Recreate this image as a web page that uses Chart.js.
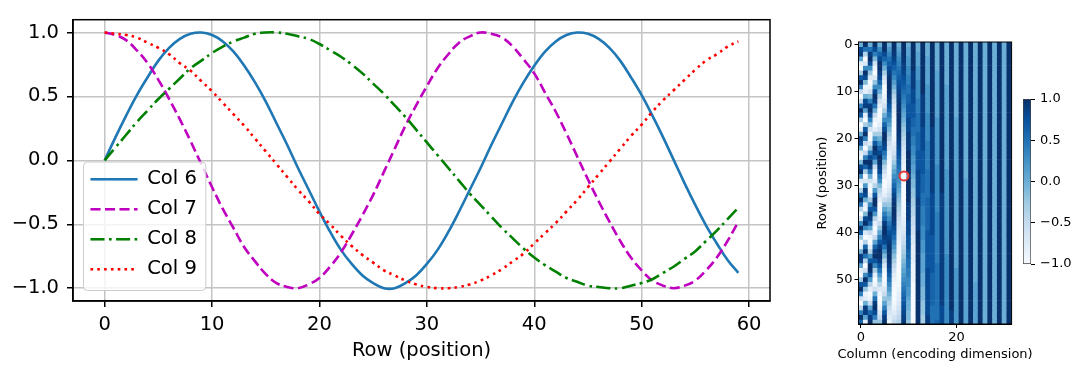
<!DOCTYPE html>
<html><head><meta charset="utf-8">
<script src="https://cdn.jsdelivr.net/npm/chart.js@4.4.1/dist/chart.umd.min.js"></script>
<style>
html,body{margin:0;padding:0;background:#fff;width:1071px;height:367px;overflow:hidden;position:relative;}
canvas{position:absolute;top:0;}
#line{left:0;}
#heat{left:800px;}
#cbar{left:1015px;}
</style></head><body>
<canvas id="line" width="790" height="367"></canvas>
<canvas id="heat" width="271" height="367"></canvas>
<canvas id="cbar" width="56" height="367"></canvas>
<script>
// ---------- data ----------
const positions = [
  0,1,2,3,4,5,6,7,8,9,
  10,11,12,13,14,15,16,17,18,19,
  20,21,22,23,24,25,26,27,28,29,
  30,31,32,33,34,35,36,37,38,39,
  40,41,42,43,44,45,46,47,48,49,
  50,51,52,53,54,55,56,57,58,59];
const seriesLabels = ['Col 6','Col 7','Col 8','Col 9'];
const col6 = [
  0,0.18,0.35,0.51,0.65,0.78,0.88,0.95,0.99,1.00,
  0.98,0.93,0.85,0.74,0.61,0.46,0.29,0.12,-0.06,-0.23,
  -0.40,-0.56,-0.70,-0.81,-0.90,-0.96,-1.00,-1.00,-0.96,-0.90,
  -0.81,-0.70,-0.56,-0.40,-0.23,-0.06,0.12,0.29,0.46,0.61,
  0.74,0.85,0.93,0.98,1.00,0.99,0.95,0.88,0.78,0.65,
  0.51,0.35,0.18,0.00,-0.18,-0.35,-0.51,-0.65,-0.78,-0.88];
const col7 = [
  1,0.98,0.94,0.86,0.76,0.63,0.48,0.32,0.15,-0.03,
  -0.21,-0.38,-0.53,-0.68,-0.79,-0.89,-0.96,-0.99,-1.00,-0.97,
  -0.92,-0.83,-0.72,-0.58,-0.43,-0.27,-0.09,0.09,0.27,0.43,
  0.58,0.72,0.83,0.92,0.97,1.00,0.99,0.96,0.89,0.79,
  0.68,0.53,0.38,0.21,0.03,-0.15,-0.32,-0.48,-0.63,-0.76,
  -0.86,-0.94,-0.98,-1.00,-0.98,-0.94,-0.86,-0.76,-0.63,-0.48];
const col8 = [
  0,0.10,0.20,0.30,0.39,0.48,0.56,0.64,0.72,0.78,
  0.84,0.89,0.93,0.96,0.99,1.00,1.00,0.99,0.97,0.95,
  0.91,0.86,0.81,0.75,0.68,0.60,0.52,0.43,0.34,0.24,
  0.14,0.04,-0.06,-0.16,-0.26,-0.35,-0.44,-0.53,-0.61,-0.69,
  -0.76,-0.82,-0.87,-0.92,-0.95,-0.98,-0.99,-1.00,-1.00,-0.98,
  -0.96,-0.93,-0.88,-0.83,-0.77,-0.71,-0.63,-0.55,-0.46,-0.37];
const col9 = [
  1,0.99,0.98,0.96,0.92,0.88,0.83,0.76,0.70,0.62,
  0.54,0.45,0.36,0.27,0.17,0.07,-0.03,-0.13,-0.23,-0.32,
  -0.42,-0.50,-0.59,-0.67,-0.74,-0.80,-0.86,-0.90,-0.94,-0.97,
  -0.99,-1.00,-1.00,-0.99,-0.97,-0.94,-0.90,-0.85,-0.79,-0.73,
  -0.65,-0.57,-0.49,-0.40,-0.31,-0.21,-0.11,-0.01,0.09,0.19,
  0.28,0.38,0.47,0.55,0.63,0.71,0.78,0.83,0.89,0.93];

// heatmap columns (encoding dimensions), one value per row (10 rows per line)
const c0 = [
  0,0.8,0.9,0.1,-0.8,-1,-0.3,0.7,1,0.4,
  -0.5,-1,-0.5,0.4,1,0.7,-0.3,-1,-0.8,0.1,
  0.9,0.8,0,-0.8,-0.9,-0.1,0.8,1,0.3,-0.7,
  -1,-0.4,0.6,1,0.5,-0.4,-1,-0.6,0.3,1,
  0.7,-0.2,-0.9,-0.8,0,0.9,0.9,0.1,-0.8,-1,
  -0.3,0.7,1,0.4,-0.6,-1,-0.5,0.4,1,0.6];
const c1 = [
  1,0.5,-0.4,-1,-0.7,0.3,1,0.8,-0.1,-0.9,
  -0.8,0,0.8,0.9,0.1,-0.8,-1,-0.3,0.7,1,
  0.4,-0.5,-1,-0.5,0.4,1,0.6,-0.3,-1,-0.7,
  0.2,0.9,0.8,0,-0.8,-0.9,-0.1,0.8,1,0.3,
  -0.7,-1,-0.4,0.6,1,0.5,-0.4,-1,-0.6,0.3,
  1,0.7,-0.2,-0.9,-0.8,0,0.9,0.9,0.1,-0.8];
const c2 = [
  0,0.5,0.9,1,0.8,0.3,-0.2,-0.7,-1,-0.9,
  -0.6,-0.1,0.4,0.9,1,0.8,0.4,-0.1,-0.6,-1,
  -1,-0.7,-0.2,0.4,0.8,1,0.9,0.5,0,-0.6,
  -0.9,-1,-0.8,-0.3,0.3,0.7,1,0.9,0.6,0.1,
  -0.5,-0.9,-1,-0.8,-0.4,0.2,0.7,1,1,0.7,
  0.2,-0.4,-0.8,-1,-0.9,-0.5,0.1,0.6,0.9,1];
const c3 = [
  1,0.8,0.4,-0.1,-0.6,-0.9,-1,-0.7,-0.2,0.3,
  0.8,1,0.9,0.5,0,-0.5,-0.9,-1,-0.8,-0.3,
  0.2,0.7,1,0.9,0.6,0.1,-0.5,-0.9,-1,-0.8,
  -0.4,0.2,0.7,1,1,0.7,0.2,-0.4,-0.8,-1,
  -0.9,-0.5,0.1,0.6,0.9,1,0.7,0.3,-0.3,-0.8,
  -1,-0.9,-0.6,0,0.5,0.9,1,0.8,0.4,-0.2];
const c4 = [
  0,0.3,0.6,0.8,1,1,0.9,0.8,0.6,0.3,
  0,-0.3,-0.6,-0.8,-1,-1,-0.9,-0.8,-0.6,-0.3,
  0,0.3,0.6,0.8,1,1,0.9,0.8,0.5,0.3,
  -0.1,-0.4,-0.6,-0.8,-1,-1,-0.9,-0.8,-0.5,-0.2,
  0.1,0.4,0.7,0.9,1,1,0.9,0.7,0.5,0.2,
  -0.1,-0.4,-0.7,-0.9,-1,-1,-0.9,-0.7,-0.5,-0.2];
const c5 = [
  1,1,0.8,0.6,0.3,0,-0.3,-0.6,-0.8,-1,
  -1,-0.9,-0.8,-0.6,-0.3,0,0.3,0.6,0.8,1,
  1,0.9,0.8,0.5,0.3,-0.1,-0.4,-0.6,-0.8,-1,
  -1,-0.9,-0.8,-0.5,-0.2,0.1,0.4,0.6,0.9,1,
  1,0.9,0.8,0.5,0.2,-0.1,-0.4,-0.7,-0.9,-1,
  -1,-0.9,-0.7,-0.5,-0.2,0.1,0.4,0.7,0.9,1];
const c10 = [
  0,0.1,0.1,0.2,0.2,0.3,0.3,0.4,0.4,0.5,
  0.5,0.6,0.6,0.7,0.7,0.7,0.8,0.8,0.8,0.9,
  0.9,0.9,0.9,1,1,1,1,1,1,1,
  1,1,1,1,0.9,0.9,0.9,0.9,0.8,0.8,
  0.8,0.7,0.7,0.7,0.6,0.6,0.5,0.5,0.4,0.4,
  0.3,0.3,0.2,0.2,0.1,0,0,-0.1,-0.1,-0.2];
const c11 = [
  1,1,1,1,1,1,0.9,0.9,0.9,0.9,
  0.8,0.8,0.8,0.7,0.7,0.7,0.6,0.6,0.5,0.5,
  0.4,0.4,0.3,0.3,0.2,0.2,0.1,0.1,0,-0.1,
  -0.1,-0.2,-0.2,-0.3,-0.3,-0.4,-0.4,-0.5,-0.5,-0.6,
  -0.6,-0.7,-0.7,-0.8,-0.8,-0.8,-0.8,-0.9,-0.9,-0.9,
  -0.9,-1,-1,-1,-1,-1,-1,-1,-1,-1];
const c12 = [
  0,0,0.1,0.1,0.1,0.2,0.2,0.2,0.3,0.3,
  0.3,0.3,0.4,0.4,0.4,0.5,0.5,0.5,0.5,0.6,
  0.6,0.6,0.6,0.7,0.7,0.7,0.7,0.8,0.8,0.8,
  0.8,0.8,0.8,0.9,0.9,0.9,0.9,0.9,0.9,0.9,
  1,1,1,1,1,1,1,1,1,1,
  1,1,1,1,1,1,1,1,1,1];
const c13 = [
  1,1,1,1,1,1,1,1,1,1,
  1,0.9,0.9,0.9,0.9,0.9,0.9,0.9,0.8,0.8,
  0.8,0.8,0.8,0.7,0.7,0.7,0.7,0.7,0.6,0.6,
  0.6,0.6,0.5,0.5,0.5,0.4,0.4,0.4,0.4,0.3,
  0.3,0.3,0.2,0.2,0.2,0.1,0.1,0.1,0.1,0,
  0,0,-0.1,-0.1,-0.1,-0.2,-0.2,-0.2,-0.3,-0.3];
const c14 = [
  0,0,0,0.1,0.1,0.1,0.1,0.1,0.1,0.2,
  0.2,0.2,0.2,0.2,0.2,0.3,0.3,0.3,0.3,0.3,
  0.3,0.4,0.4,0.4,0.4,0.4,0.4,0.5,0.5,0.5,
  0.5,0.5,0.5,0.6,0.6,0.6,0.6,0.6,0.6,0.6,
  0.7,0.7,0.7,0.7,0.7,0.7,0.7,0.7,0.8,0.8,
  0.8,0.8,0.8,0.8,0.8,0.8,0.8,0.8,0.9,0.9];
const c15 = [
  1,1,1,1,1,1,1,1,1,1,
  1,1,1,1,1,1,1,1,0.9,0.9,
  0.9,0.9,0.9,0.9,0.9,0.9,0.9,0.9,0.9,0.9,
  0.9,0.9,0.8,0.8,0.8,0.8,0.8,0.8,0.8,0.8,
  0.8,0.7,0.7,0.7,0.7,0.7,0.7,0.7,0.7,0.6,
  0.6,0.6,0.6,0.6,0.6,0.6,0.5,0.5,0.5,0.5];
const c16 = [
  0,0,0,0,0,0,0.1,0.1,0.1,0.1,
  0.1,0.1,0.1,0.1,0.1,0.1,0.2,0.2,0.2,0.2,
  0.2,0.2,0.2,0.2,0.2,0.2,0.3,0.3,0.3,0.3,
  0.3,0.3,0.3,0.3,0.3,0.3,0.4,0.4,0.4,0.4,
  0.4,0.4,0.4,0.4,0.4,0.4,0.4,0.5,0.5,0.5,
  0.5,0.5,0.5,0.5,0.5,0.5,0.5,0.5,0.5,0.6];
const c17 = [
  1,1,1,1,1,1,1,1,1,1,
  1,1,1,1,1,1,1,1,1,1,
  1,1,1,1,1,1,1,1,1,1,
  1,1,0.9,0.9,0.9,0.9,0.9,0.9,0.9,0.9,
  0.9,0.9,0.9,0.9,0.9,0.9,0.9,0.9,0.9,0.9,
  0.9,0.9,0.9,0.9,0.9,0.9,0.8,0.8,0.8,0.8];
const c18 = [
  0,0,0,0,0,0,0,0,0,0.1,
  0.1,0.1,0.1,0.1,0.1,0.1,0.1,0.1,0.1,0.1,
  0.1,0.1,0.1,0.1,0.1,0.1,0.1,0.2,0.2,0.2,
  0.2,0.2,0.2,0.2,0.2,0.2,0.2,0.2,0.2,0.2,
  0.2,0.2,0.2,0.2,0.2,0.3,0.3,0.3,0.3,0.3,
  0.3,0.3,0.3,0.3,0.3,0.3,0.3,0.3,0.3,0.3];
const c19 = [
  1,1,1,1,1,1,1,1,1,1,
  1,1,1,1,1,1,1,1,1,1,
  1,1,1,1,1,1,1,1,1,1,
  1,1,1,1,1,1,1,1,1,1,
  1,1,1,1,1,1,1,1,1,1,
  1,1,1,1,1,1,1,0.9,0.9,0.9];
const c20 = [
  0,0,0,0,0,0,0,0,0,0,
  0,0,0,0,0,0,0.1,0.1,0.1,0.1,
  0.1,0.1,0.1,0.1,0.1,0.1,0.1,0.1,0.1,0.1,
  0.1,0.1,0.1,0.1,0.1,0.1,0.1,0.1,0.1,0.1,
  0.1,0.1,0.1,0.1,0.1,0.1,0.1,0.1,0.2,0.2,
  0.2,0.2,0.2,0.2,0.2,0.2,0.2,0.2,0.2,0.2];
const c21 = [
  1,1,1,1,1,1,1,1,1,1,
  1,1,1,1,1,1,1,1,1,1,
  1,1,1,1,1,1,1,1,1,1,
  1,1,1,1,1,1,1,1,1,1,
  1,1,1,1,1,1,1,1,1,1,
  1,1,1,1,1,1,1,1,1,1];
const c22 = [
  0,0,0,0,0,0,0,0,0,0,
  0,0,0,0,0,0,0,0,0,0,
  0,0,0,0,0,0,0,0,0,0.1,
  0.1,0.1,0.1,0.1,0.1,0.1,0.1,0.1,0.1,0.1,
  0.1,0.1,0.1,0.1,0.1,0.1,0.1,0.1,0.1,0.1,
  0.1,0.1,0.1,0.1,0.1,0.1,0.1,0.1,0.1,0.1];
const c23 = [
  1,1,1,1,1,1,1,1,1,1,
  1,1,1,1,1,1,1,1,1,1,
  1,1,1,1,1,1,1,1,1,1,
  1,1,1,1,1,1,1,1,1,1,
  1,1,1,1,1,1,1,1,1,1,
  1,1,1,1,1,1,1,1,1,1];
const c24 = [
  0,0,0,0,0,0,0,0,0,0,
  0,0,0,0,0,0,0,0,0,0,
  0,0,0,0,0,0,0,0,0,0,
  0,0,0,0,0,0,0,0,0,0,
  0,0,0,0,0,0,0,0,0,0,
  0,0.1,0.1,0.1,0.1,0.1,0.1,0.1,0.1,0.1];
const c25 = [
  1,1,1,1,1,1,1,1,1,1,
  1,1,1,1,1,1,1,1,1,1,
  1,1,1,1,1,1,1,1,1,1,
  1,1,1,1,1,1,1,1,1,1,
  1,1,1,1,1,1,1,1,1,1,
  1,1,1,1,1,1,1,1,1,1];
const c26 = [
  0,0,0,0,0,0,0,0,0,0,
  0,0,0,0,0,0,0,0,0,0,
  0,0,0,0,0,0,0,0,0,0,
  0,0,0,0,0,0,0,0,0,0,
  0,0,0,0,0,0,0,0,0,0,
  0,0,0,0,0,0,0,0,0,0];
const c27 = [
  1,1,1,1,1,1,1,1,1,1,
  1,1,1,1,1,1,1,1,1,1,
  1,1,1,1,1,1,1,1,1,1,
  1,1,1,1,1,1,1,1,1,1,
  1,1,1,1,1,1,1,1,1,1,
  1,1,1,1,1,1,1,1,1,1];
const c28 = [
  0,0,0,0,0,0,0,0,0,0,
  0,0,0,0,0,0,0,0,0,0,
  0,0,0,0,0,0,0,0,0,0,
  0,0,0,0,0,0,0,0,0,0,
  0,0,0,0,0,0,0,0,0,0,
  0,0,0,0,0,0,0,0,0,0];
const c29 = [
  1,1,1,1,1,1,1,1,1,1,
  1,1,1,1,1,1,1,1,1,1,
  1,1,1,1,1,1,1,1,1,1,
  1,1,1,1,1,1,1,1,1,1,
  1,1,1,1,1,1,1,1,1,1,
  1,1,1,1,1,1,1,1,1,1];
const c30 = [
  0,0,0,0,0,0,0,0,0,0,
  0,0,0,0,0,0,0,0,0,0,
  0,0,0,0,0,0,0,0,0,0,
  0,0,0,0,0,0,0,0,0,0,
  0,0,0,0,0,0,0,0,0,0,
  0,0,0,0,0,0,0,0,0,0];
const c31 = [
  1,1,1,1,1,1,1,1,1,1,
  1,1,1,1,1,1,1,1,1,1,
  1,1,1,1,1,1,1,1,1,1,
  1,1,1,1,1,1,1,1,1,1,
  1,1,1,1,1,1,1,1,1,1,
  1,1,1,1,1,1,1,1,1,1];

// ticks
const xTicks = [0,10,20,30,40,50,60];
const yTicks = [-1,-0.5,0,0.5,1];
const heatRowTicks = [0,10,20,30,40,50];
const heatColTicks = [0,20];
const cbarTicks = [-1,-0.5,0,0.5,1];
const cbarRange = [-1, 1];
const markerCol = ['9'];
const markerRow = [28];
const heatXTitle = 'Column (encoding dimension)';

// ---------- helpers ----------
Chart.defaults.font.family = "'DejaVu Sans', sans-serif";
Chart.defaults.color = '#000';
const fmt = v => (Math.round(v*10)/10).toFixed(1).replace('-', '\u2212');
const bluesStops = ['#f7fbff','#deebf7','#c6dbef','#9ecae1','#6baed6','#4292c6','#2171b5','#08519c','#08306b'];
const bluesRgb = bluesStops.map(h => [parseInt(h.slice(1,3),16), parseInt(h.slice(3,5),16), parseInt(h.slice(5,7),16)]);
function blues(v) {
  if (!Number.isFinite(v)) return 'rgba(0,0,0,0)';
  let t = Math.max(0, Math.min(1, (v + 1) / 2)) * 8;
  const i = Math.min(7, Math.floor(t)); const f = t - i;
  const a = bluesRgb[i], b = bluesRgb[i+1];
  return 'rgb(' + [0,1,2].map(k => Math.round(a[k] + (b[k]-a[k])*f)).join(',') + ')';
}
const frame = (lw) => ({
  id: 'frame',
  afterDatasetsDraw(chart) {
    const {ctx, chartArea: a} = chart;
    ctx.save(); ctx.strokeStyle = '#000'; ctx.lineWidth = lw;
    ctx.strokeRect(a.left, a.top, a.right - a.left, a.bottom - a.top);
    ctx.restore();
  }
});
const legendPlace = {
  id: 'legendPlace',
  afterLayout(chart) {
    const lg = chart.legend, a = chart.chartArea;
    if (!lg) return;
    lg.left = a.left + 7; lg.right = a.right; lg.top = a.top; lg.bottom = a.bottom - 11.5;
    lg.width = lg.right - lg.left; lg.height = lg.bottom - lg.top;
  }
};
const legendFrame = {
  id: 'legendFrame',
  afterDatasetsDraw(chart) {
    const lg = chart.legend; if (!lg || !lg.legendHitBoxes || !lg.legendHitBoxes.length) return;
    const hb = lg.legendHitBoxes;
    const l = Math.min(...hb.map(h => h.left)) - 7;
    const t = Math.min(...hb.map(h => h.top)) - 7.5;
    const r = Math.max(...hb.map(h => h.left + h.width)) + 9;
    const b = Math.max(...hb.map(h => h.top + h.height)) + 11.5;
    const ctx = chart.ctx;
    ctx.save();
    ctx.beginPath();
    ctx.roundRect(l, t, r - l, b - t, 4);
    ctx.fillStyle = 'rgba(255,255,255,0.8)'; ctx.fill();
    ctx.strokeStyle = '#cccccc'; ctx.lineWidth = 1; ctx.stroke();
    ctx.restore();
    lg.draw();
  }
};
// x-axis title of the heatmap: wider than the plot, so drawn without width squeezing
const heatTitle = {
  id: 'heatTitle',
  afterDraw(chart) {
    const {ctx, chartArea: a} = chart;
    ctx.save();
    ctx.font = "13px 'DejaVu Sans', sans-serif";
    ctx.fillStyle = '#000'; ctx.textAlign = 'center'; ctx.textBaseline = 'middle';
    ctx.fillText(heatXTitle, (a.left + a.right) / 2, a.bottom + 31);
    ctx.restore();
  }
};

// ---------- line chart ----------
const F19 = {family: "'DejaVu Sans', sans-serif", size: 19.5};
const LW = 2.6;
new Chart(document.getElementById('line'), {
  type: 'line',
  data: {
    labels: positions,
    datasets: [
      {label: seriesLabels[0], data: col6, borderColor: '#1f77b4', borderWidth: LW, order: 3},
      {label: seriesLabels[1], data: col7, borderColor: '#bf00bf', borderWidth: LW, borderDash: [10,4.5], order: 2},
      {label: seriesLabels[2], data: col8, borderColor: '#008000', borderWidth: LW, borderDash: [14,4.5,2.6,4.5], order: 1},
      {label: seriesLabels[3], data: col9, borderColor: '#ff0000', borderWidth: LW, borderDash: [2.6,4.2], order: 0}
    ]
  },
  options: {
    responsive: false, animation: false, events: [],
    elements: {point: {radius: 0}, line: {tension: 0.4, fill: false}},
    layout: {padding: {left: 0, right: 20, top: 13, bottom: 0}},
    scales: {
      x: {
        type: 'linear', min: -2.95, max: 61.95,
        afterBuildTicks: s => { s.ticks = xTicks.map(v => ({value: v})); },
        afterFit: s => { s.height = 66; },
        ticks: {font: F19, padding: 6, maxRotation: 0, callback: v => String(v)},
        grid: {color: '#c4c4c4', lineWidth: 1.5, tickColor: '#000', tickWidth: 1.5, tickLength: 6},
        border: {color: '#000', width: 1.5},
        title: {display: true, text: 'Row (position)', font: F19, padding: {top: 0, bottom: 4}}
      },
      y: {
        type: 'linear', min: -1.1, max: 1.1,
        afterBuildTicks: s => { s.ticks = yTicks.map(v => ({value: v})); },
        afterFit: s => { s.width = 73; },
        ticks: {font: F19, padding: 8, callback: v => fmt(v)},
        grid: {color: '#c4c4c4', lineWidth: 1.5, tickColor: '#000', tickWidth: 1.5, tickLength: 6},
        border: {color: '#000', width: 1.5}
      }
    },
    plugins: {
      tooltip: {enabled: false},
      legend: {
        position: 'chartArea', align: 'end',
        labels: {
          usePointStyle: true, pointStyle: 'line', pointStyleWidth: 47,
          padding: 10.5, font: F19, color: '#000',
          generateLabels: (chart) => Chart.defaults.plugins.legend.labels.generateLabels(chart).map(it => {
            const ds = chart.data.datasets[it.datasetIndex];
            it.lineDash = ds.borderDash || [];
            it.lineWidth = ds.borderWidth;
            it.strokeStyle = ds.borderColor;
            it.fillStyle = ds.borderColor;
            return it;
          }),
          sort: (a, b) => a.datasetIndex - b.datasetIndex
        }
      }
    }
  },
  plugins: [legendPlace, frame(1.5), legendFrame]
});

// ---------- heatmap ----------
const heatCols = [c0,c1,c2,c3,c4,c5,col6,col7,col8,col9,c10,c11,c12,c13,c14,c15,c16,c17,c18,c19,c20,c21,c22,c23,c24,c25,c26,c27,c28,c29,c30,c31];
const colLabels = heatCols.map((_, i) => String(i));
const F13 = {family: "'DejaVu Sans', sans-serif", size: 13};
const heatDatasets = positions.map(r => ({
  type: 'bar',
  data: heatCols.map(() => [r - 0.5, r + 0.5]),
  backgroundColor: heatCols.map(c => blues(c[r])),
  borderWidth: 0, barPercentage: 1, categoryPercentage: 1, grouped: false
}));
heatDatasets.push({
  type: 'line', data: markerCol.map((c, i) => ({x: c, y: markerRow[i]})), showLine: false,
  pointRadius: 4.5, pointBorderWidth: 2, pointBorderColor: '#e53935', pointBackgroundColor: 'rgba(255,255,255,0.55)', order: -1
});
new Chart(document.getElementById('heat'), {
  type: 'bar',
  data: {labels: colLabels, datasets: heatDatasets},
  options: {
    responsive: false, animation: false, events: [],
    layout: {padding: {left: 0, right: 59.4, top: 42, bottom: 0}},
    scales: {
      x: {
        type: 'category', offset: true,
        afterBuildTicks: s => { s.ticks = heatColTicks.map(v => ({value: v})); },
        afterFit: s => { s.height = 43; },
        ticks: {font: F13, padding: 2, maxRotation: 0, autoSkip: false},
        grid: {offset: false, drawOnChartArea: false, tickColor: '#000', tickLength: 4, tickWidth: 1},
        border: {color: '#000', width: 1}
      },
      y: {
        type: 'linear', reverse: true, min: -0.5, max: 59.5,
        afterBuildTicks: s => { s.ticks = heatRowTicks.map(v => ({value: v})); },
        afterFit: s => { s.width = 58.5; },
        ticks: {font: F13, padding: 2, callback: v => String(v)},
        grid: {drawOnChartArea: false, tickColor: '#000', tickLength: 4, tickWidth: 1},
        border: {color: '#000', width: 1},
        title: {display: true, text: 'Row (position)', font: F13, padding: {top: 15, bottom: 0}}
      }
    },
    plugins: {legend: {display: false}, tooltip: {enabled: false}}
  },
  plugins: [frame(1), heatTitle]
});

// ---------- colorbar ----------
new Chart(document.getElementById('cbar'), {
  type: 'bar',
  data: {
    labels: ['cbar'],
    datasets: [{
      data: [cbarRange],
      backgroundColor: (c) => {
        const ch = c.chart; const ys = ch.scales && ch.scales.y;
        if (!ch.chartArea || !ys) return bluesStops[4];
        const g = ch.ctx.createLinearGradient(0, ys.getPixelForValue(cbarRange[0]), 0, ys.getPixelForValue(cbarRange[1]));
        bluesStops.forEach((s, i) => g.addColorStop(i / (bluesStops.length - 1), s));
        return g;
      },
      borderColor: '#444', borderWidth: 1, borderSkipped: false,
      barPercentage: 1, categoryPercentage: 1
    }]
  },
  options: {
    responsive: false, animation: false, events: [],
    layout: {padding: {left: 8, right: 0, top: 99, bottom: 103}},
    scales: {
      x: {display: false},
      y: {
        position: 'right', min: cbarRange[0], max: cbarRange[1],
        afterBuildTicks: s => { s.ticks = cbarTicks.map(v => ({value: v})); },
        afterFit: s => { s.width = 40; },
        ticks: {font: F13, padding: 5, callback: v => fmt(v)},
        grid: {drawOnChartArea: false, tickColor: '#000', tickLength: 4, tickWidth: 1},
        border: {display: false}
      }
    },
    plugins: {legend: {display: false}, tooltip: {enabled: false}}
  }
});
</script>
</body></html>
